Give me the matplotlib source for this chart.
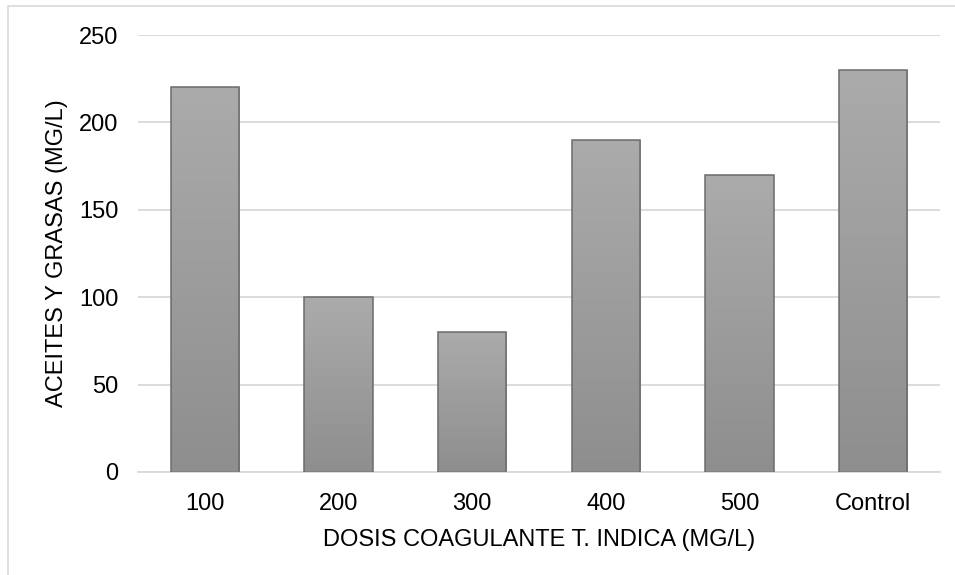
import numpy as np
import matplotlib.pyplot as plt
from matplotlib.colors import LinearSegmentedColormap
from matplotlib.patches import Rectangle

plt.rcParams['font.family'] = ['Liberation Sans', 'DejaVu Sans']

dosis = ['100', '200', '300', '400', '500', 'Control']
aceites = [220, 100, 80, 190, 170, 230]

fig = plt.figure(figsize=(9.55, 5.75), dpi=100)
ax = fig.add_axes([138 / 955, 103 / 575, 802 / 955, 437 / 575])

# light outer frame of the chart area
fig.patches.append(Rectangle((8 / 955, -0.05), 1.2, 1.05 - 6 / 575,
                             transform=fig.transFigure, fill=False,
                             edgecolor='#d9d9d9', linewidth=1.2))

x = np.arange(len(dosis))
bars = ax.bar(x, aceites, width=0.51, color='none', edgecolor='#6b6b6b',
              linewidth=1.1, zorder=3)

# vertical grey gradient inside each bar
grad = LinearSegmentedColormap.from_list('g', ['#8e8e8e', '#ababab'])
for b in bars:
    x0, y0 = b.get_x(), b.get_y()
    w, h = b.get_width(), b.get_height()
    im = ax.imshow(np.linspace(0, 1, 256).reshape(-1, 1), cmap=grad,
                   extent=[x0, x0 + w, y0, y0 + h], origin='lower',
                   aspect='auto', zorder=2)
    im.set_clip_path(b)

ax.set_xlim(-0.5, len(dosis) - 0.5)
ax.set_ylim(0, 250)
ax.set_yticks([0, 50, 100, 150, 200, 250])
ax.set_xticks(x)
ax.set_xticklabels(dosis)
ax.grid(axis='y', color='#d9d9d9', linewidth=1.3, zorder=0)
ax.set_axisbelow(True)
for s in ['top', 'right', 'left']:
    ax.spines[s].set_visible(False)
ax.spines['bottom'].set_color('#d9d9d9')
ax.spines['bottom'].set_linewidth(1.3)
ax.tick_params(length=0, labelsize=17, colors='black')
ax.tick_params(axis='x', pad=15)
ax.tick_params(axis='y', pad=14)

ax.set_xlabel('DOSIS COAGULANTE T. INDICA (MG/L)', fontsize=17, labelpad=10)
ax.set_ylabel('ACEITES Y GRASAS (MG/L)', fontsize=17, labelpad=8)

plt.savefig('out.png', dpi=100)
